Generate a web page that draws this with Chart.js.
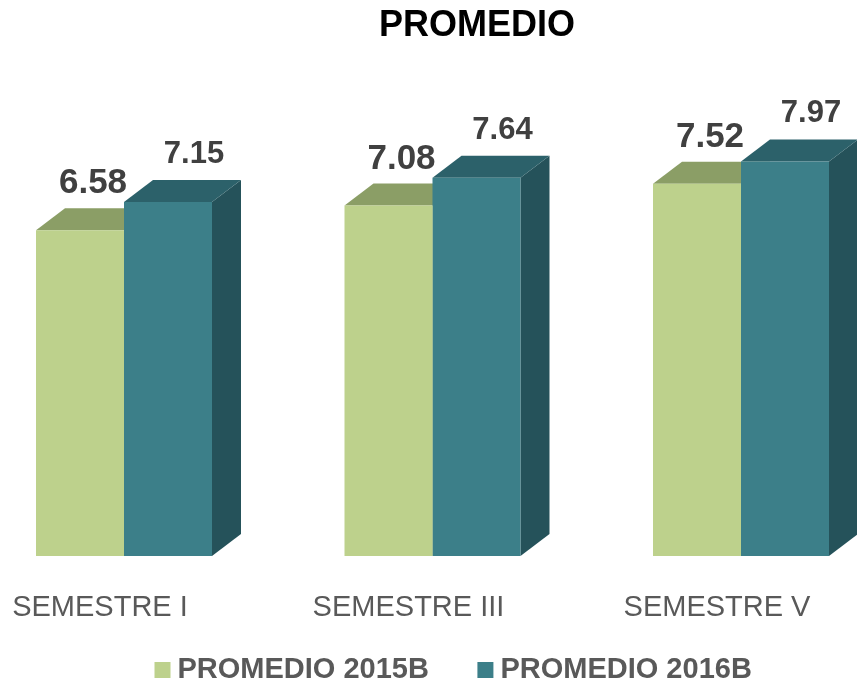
<!DOCTYPE html>
<html>
<head>
<meta charset="utf-8">
<script src="https://cdn.jsdelivr.net/npm/chart.js@4.4.0/dist/chart.umd.min.js"></script>
<style>
html,body{margin:0;padding:0;background:#ffffff;}
#wrap{width:857px;height:683px;}
</style>
</head>
<body>
<div id="wrap"><canvas id="c" width="857" height="683"></canvas></div>
<script>
// ---- data ----
const chartTitle = 'PROMEDIO';
const categories = ['SEMESTRE I', 'SEMESTRE III', 'SEMESTRE V'];
const seriesNames = ['PROMEDIO 2015B', 'PROMEDIO 2016B'];
const promedio2015B = [6.58, 7.08, 7.52];
const promedio2016B = [7.15, 7.64, 7.97];
const yMin = 0;
const yMax = 10;

// ---- styles ----
const FONT = "'Liberation Sans', Arial, sans-serif";
const frontColors = ['#BDD18C', '#3C7F89'];
const topColors = ['#8B9E66', '#2C616A'];
const sideColors = ['#9CB073', '#25525A'];
const DEPTH_X = 29, DEPTH_Y = 22;
const valueLabelStyle = [
  {size: 35, dx: 13, dy: 15},
  {size: 31, dx: 26, dy: 17}
];

const bar3d = {
  id: 'bar3d',
  beforeDatasetsDraw(chart) {
    const ctx = chart.ctx;
    ctx.save();
    chart.data.datasets.forEach((ds, di) => {
      const meta = chart.getDatasetMeta(di);
      meta.data.forEach(bar => {
        const p = bar.getProps(['x', 'y', 'base', 'width'], true);
        const l = p.x - p.width / 2, r = p.x + p.width / 2;
        ctx.fillStyle = sideColors[di];
        ctx.beginPath();
        ctx.moveTo(r, p.y);
        ctx.lineTo(r + DEPTH_X, p.y - DEPTH_Y);
        ctx.lineTo(r + DEPTH_X, p.base - DEPTH_Y);
        ctx.lineTo(r, p.base);
        ctx.closePath();
        ctx.fill();
        ctx.fillStyle = topColors[di];
        ctx.beginPath();
        ctx.moveTo(l, p.y);
        ctx.lineTo(l + DEPTH_X, p.y - DEPTH_Y);
        ctx.lineTo(r + DEPTH_X, p.y - DEPTH_Y);
        ctx.lineTo(r, p.y);
        ctx.closePath();
        ctx.fill();
      });
    });
    ctx.restore();
  },
  afterDatasetsDraw(chart) {
    const ctx = chart.ctx;
    ctx.save();
    ctx.fillStyle = '#404040';
    ctx.textAlign = 'center';
    ctx.textBaseline = 'alphabetic';
    chart.data.datasets.forEach((ds, di) => {
      const meta = chart.getDatasetMeta(di);
      const st = valueLabelStyle[di];
      ctx.font = 'bold ' + st.size + 'px ' + FONT;
      meta.data.forEach((bar, i) => {
        const p = bar.getProps(['x', 'y'], true);
        ctx.fillText(Number(ds.data[i]).toFixed(2), p.x + st.dx, p.y - DEPTH_Y - st.dy);
      });
    });
    ctx.restore();
  }
};

const hiddenAxis = (extra) => Object.assign({
  display: true,
  grid: {display: false, drawTicks: false},
  border: {display: false},
  ticks: {display: false}
}, extra);

new Chart(document.getElementById('c'), {
  type: 'bar',
  data: {
    labels: categories,
    datasets: [
      {label: seriesNames[0], data: promedio2015B, backgroundColor: frontColors[0], borderWidth: 0, clip: false, xAxisID: 'x', yAxisID: 'y'},
      {label: seriesNames[1], data: promedio2016B, backgroundColor: frontColors[1], borderWidth: 0, clip: false, xAxisID: 'x', yAxisID: 'y'}
    ]
  },
  plugins: [bar3d],
  options: {
    responsive: false,
    animation: false,
    devicePixelRatio: 1,
    layout: {padding: {left: 106, right: 9, top: 0, bottom: -11.5}},
    datasets: {bar: {categoryPercentage: 0.5705, barPercentage: 1}},
    plugins: {
      title: {
        display: true,
        text: chartTitle,
        color: '#000000',
        font: {family: FONT, size: 36, weight: 'bold'},
        padding: {top: 4, bottom: 13.8}
      },
      legend: {
        display: true,
        position: 'bottom',
        align: 'start',
        labels: {
          usePointStyle: true,
          pointStyle: 'rect',
          boxWidth: 1,
          boxHeight: 16,
          padding: 56,
          color: '#595959',
          font: {family: FONT, size: 29, weight: 'bold'}
        }
      },
      tooltip: {enabled: false}
    },
    scales: {
      x: {
        type: 'category',
        position: {y: 0},
        offset: false,
        grid: {display: false, drawTicks: false},
        border: {display: false},
        ticks: {
          color: '#595959',
          font: {family: FONT, size: 29},
          padding: 34.6,
          labelOffset: -24,
          maxRotation: 0,
          autoSkip: false
        },
        afterFit(s) { s.paddingLeft = 0; s.paddingRight = 0; }
      },
      xSpace: hiddenAxis({
        type: 'linear',
        axis: 'x',
        position: 'bottom',
        afterFit(s) { s.height = 43.5; }
      }),
      y: hiddenAxis({
        type: 'linear',
        position: 'left',
        min: yMin,
        max: yMax,
        afterFit(s) { s.width = 18; }
      }),
      y2: hiddenAxis({
        type: 'linear',
        position: 'right',
        min: yMin,
        max: yMax,
        afterFit(s) { s.width = 107; }
      })
    }
  }
});
</script>
</body>
</html>
